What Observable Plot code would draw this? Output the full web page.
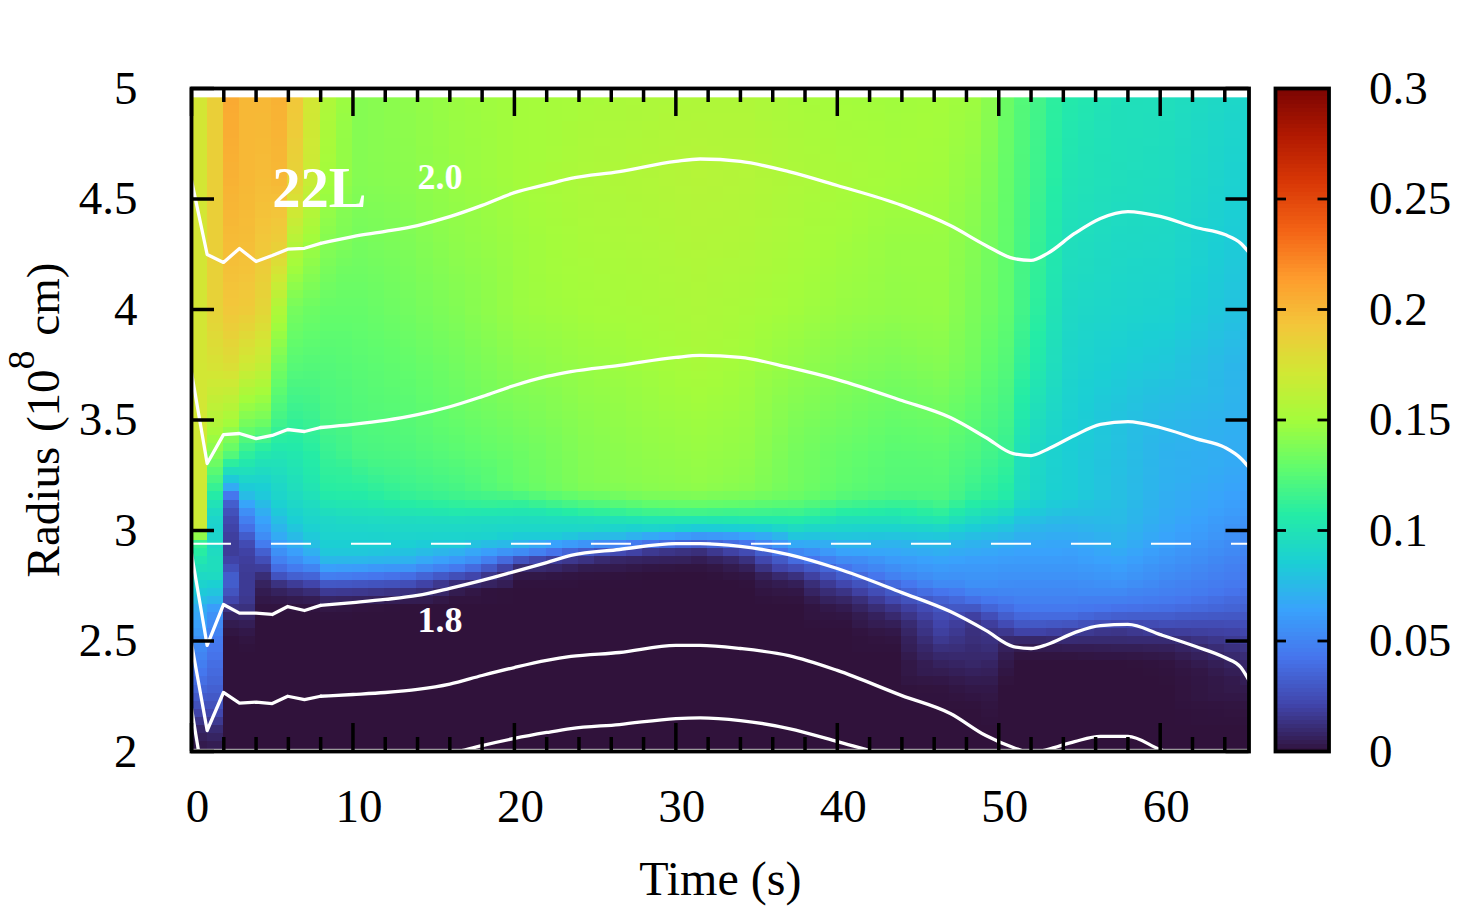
<!DOCTYPE html>
<html>
<head>
<meta charset="utf-8">
<style>
html,body{margin:0;padding:0;background:#fff;overflow:hidden}
#row{display:flex;width:1470px;height:910px}
svg{display:block;flex:none}
</style>
<script src="https://cdn.jsdelivr.net/npm/d3@7"></script>
<script src="https://cdn.jsdelivr.net/npm/@observablehq/plot@0.6"></script>
</head>
<body>
<div id="row"></div>
<script>
const xMajor = [0,10,20,30,40,50,60];
const xMinor = [2,4,6,8,12,14,16,18,22,24,26,28,32,34,36,38,42,44,46,48,52,54,56,58,62,64];
const yTicks = [2,2.5,3,3.5,4,4.5,5];
const barTicks = [0,0.05,0.1,0.15,0.2,0.25,0.3];
const turboStops = ["#30123b","#4145ab","#4675ed","#39a2fc","#1bcfd4","#24eca6","#61fc6c","#a4fc3b","#d1e834","#f3c63a","#fe9b2d","#f36315","#d93806","#b11901","#7a0402"];

// sampled field: one profile (in 10^-3) per time, read at the radii below
const radii = [4.96,4.6,4.3,4.0,3.75,3.5,3.35,3.2,3.15,3.1,3.05,3.0,2.95,2.9,2.85,2.8,2.75,2.7,2.65,2.6,2.55,2.5,2.45,2.4,2.3,2.2,2.1,2.01];
const fieldTimes = [0.4,1.43,2.43,3.43,4.43,5.43,6.43,7.43,8.43,10.43,13.43,16.43,20.43,24.43,28.43,31.43,34.43,37.43,40.43,43.43,46.43,47.43,48.43,49.43,50.43,51.43,52.43,53.43,54.43,57.43,60.43,65.5];
const profiles = [
[172,172,172,172,172,172,172,172,172,172,172,170,115,108,100,94,88,80,70,66,62,56,52,48,38,25,8,2],
[187,187,187,185,175,158,140,115,105,95,90,88,92,95,97,95,85,78,62,55,50,45,43,40,35,26,10,3],
[207,203,198,192,178,152,127,72,38,28,23,20,18,18,22,32,32,25,14,6,2,0,0,0,0,0,0,0],
[200,200,197,190,170,138,112,85,75,58,48,38,25,20,18,17,17,17,13,7,3,1,0,0,0,0,0,0],
[200,198,192,183,165,135,105,86,82,72,65,58,50,32,22,12,6,3,1,0,0,0,0,0,0,0,0,0],
[203,200,188,155,135,118,102,92,90,85,78,72,65,55,45,30,10,4,1,0,0,0,0,0,0,0,0,0],
[192,185,158,135,125,113,104,97,94,90,86,80,72,62,52,36,14,5,1,0,0,0,0,0,0,0,0,0],
[172,168,148,132,124,115,108,102,98,93,90,86,80,70,58,38,18,6,1,0,0,0,0,0,0,0,0,0],
[155,150,140,130,124,120,114,109,105,98,92,90,87,82,71,50,26,10,2,0,0,0,0,0,0,0,0,0],
[140,140,135,130,126,123,120,110,106,100,94,90,87,82,70,47,25,9,1,0,0,0,0,0,0,0,0,0],
[143,142,138,134,129,125,122,116,112,104,95,91,88,79,68,42,22,6,0,0,0,0,0,0,0,0,0,0],
[147,146,143,139,134,130,126,120,116,107,96,91,87,70,55,28,8,1,0,0,0,0,0,0,0,0,0,0],
[150,150,148,147,142,136,132,130,120,105,95,90,78,52,15,3,0,0,0,0,0,0,0,0,0,0,0,0],
[152,154,152,150,146,142,140,139,130,115,97,90,65,28,6,1,0,0,0,0,0,0,0,0,0,0,0,0],
[154,156,154,152,149,146,144,142,136,122,102,85,48,14,3,0,0,0,0,0,0,0,0,0,0,0,0,0],
[155,158,156,154,152,148,146,144,137,124,102,78,38,10,2,0,0,0,0,0,0,0,0,0,0,0,0,0],
[155,157,155,152,149,146,144,141,135,122,104,80,48,22,8,2,0,0,0,0,0,0,0,0,0,0,0,0],
[152,154,152,149,144,138,135,134,131,120,106,90,72,50,32,14,4,1,0,0,0,0,0,0,0,0,0,0],
[150,152,149,146,140,134,130,128,124,112,98,87,75,64,48,34,20,10,4,1,0,0,0,0,0,0,0,0],
[149,150,146,144,137,130,126,124,120,108,98,86,74,66,58,50,36,26,15,8,3,1,0,0,0,0,0,0],
[150,149,146,145,140,132,127,124,122,114,103,88,76,70,63,58,52,36,29,23,20,16,11,7,1,0,0,0],
[149,146,143,141,137,129,124,120,118,108,98,84,75,68,62,57,52,40,30,20,17,14,11,8,2,0,0,0],
[148,144,140,137,134,126,122,116,112,103,93,82,73,67,61,58,55,45,30,16,13,12,10,9,3,0,0,0],
[142,138,135,133,128,122,118,112,110,100,90,80,72,66,61,58,55,47,36,22,15,13,11,8,3,1,0,0],
[132,130,129,128,124,118,114,108,106,97,87,78,70,65,60,57,54,49,40,30,18,9,5,3,0,0,0,0],
[124,122,120,118,112,104,98,96,94,88,80,74,68,64,60,57,53,50,44,35,24,8,2,0,0,0,0,0],
[118,116,113,110,104,96,92,91,90,85,78,72,68,64,60,57,53,50,45,36,24,8,2,0,0,0,0,0],
[110,108,104,100,96,91,88,87,86,82,76,71,67,64,60,57,53,50,45,36,22,9,2,0,0,0,0,0],
[105,101,97,93,90,87,85,85,85,80,75,71,67,63,60,57,53,50,45,36,20,10,2,0,0,0,0,0],
[98,97,93,90,85,80,79,78,78,77,76,74,72,68,64,60,56,50,42,30,16,10,3,0,0,0,0,0],
[97,95,92,88,82,75,72,71,70,69,68,66,64,60,57,54,50,47,40,30,20,10,4,1,0,0,0,0],
[90,86,82,78,72,70,68,64,62,60,57,55,52,50,47,45,43,38,34,28,23,18,13,9,4,1,0,0]
];

// contour lines
const lineTimes = [0,0.97,1.98,2.97,4,5,5.96,7,8,10,12,14,16,18,20,22,23.5,26.5,30,31.5,34,37,40,44,47,49.2,50.9,52,53,54.7,56.3,58,60,62.2,64,65,65.5];
const contourA = [4.584,4.249,4.213,4.276,4.217,4.244,4.273,4.277,4.299,4.330,4.353,4.380,4.420,4.471,4.529,4.566,4.593,4.624,4.670,4.681,4.670,4.624,4.561,4.471,4.380,4.290,4.231,4.222,4.253,4.344,4.412,4.443,4.421,4.371,4.339,4.299,4.258];
const contourB = [3.715,3.303,3.434,3.439,3.416,3.430,3.457,3.448,3.466,3.480,3.498,3.524,3.560,3.606,3.656,3.697,3.719,3.747,3.783,3.792,3.783,3.738,3.683,3.588,3.511,3.421,3.348,3.339,3.367,3.430,3.480,3.493,3.466,3.416,3.376,3.326,3.285];
const contourC = [2.896,2.480,2.665,2.626,2.626,2.620,2.656,2.638,2.661,2.674,2.688,2.706,2.738,2.774,2.814,2.855,2.887,2.914,2.941,2.941,2.928,2.891,2.828,2.719,2.633,2.548,2.475,2.466,2.484,2.538,2.570,2.575,2.529,2.475,2.425,2.380,2.321];
const contourD = [2.489,2.095,2.267,2.219,2.223,2.217,2.250,2.235,2.250,2.258,2.267,2.281,2.305,2.344,2.380,2.412,2.430,2.448,2.480,2.480,2.466,2.434,2.367,2.253,2.172,2.072,2.018,1.995,2.009,2.045,2.068,2.068,2.009,1.959,1.914,1.869,1.824];
const contourE = [2.195,1.765,1.937,1.887,1.891,1.887,1.919,1.905,1.919,1.937,1.950,1.968,1.991,2.027,2.059,2.086,2.104,2.122,2.149,2.152,2.140,2.104,2.045,1.959,1.869,1.778,1.71,1.68,1.70,1.74,1.76,1.76,1.70,1.65,1.60,1.56,1.52];
const contours = [contourA,contourB,contourC,contourD,contourE];
const shockRadius = 2.94;
const jaggedEnd = 8; // the first samples are joined straight, the rest as a smooth curve

const samples = profiles.flatMap((p,j)=>p.map((v,i)=>({t:fieldTimes[j],r:radii[i],v:v/1000})));
const lineRows = contours.flatMap((c,k)=>c.map((r,i)=>({k,i,t:lineTimes[i],r})));

const font = "Liberation Serif";
const colorScale = {type:"linear",domain:[0,0.3],clamp:true,interpolate:d3.piecewise(d3.interpolateRgb,turboStops)};
const lineStyle = {x:"t",y:"r",z:"k",stroke:"#fff",strokeWidth:3.3,clip:true};

const main = Plot.plot({
  width:1262,height:910,marginLeft:191,marginRight:13.5,marginTop:88,marginBottom:159,
  style:{fontFamily:font,background:"#fff",color:"#000"},
  x:{domain:[0,65.5]},
  y:{domain:[2,5]},
  color:colorScale,
  marks:[
    Plot.raster(samples,{x:"t",y:"r",fill:"v",x1:-0.07,x2:65.93,y1:2.012,y2:4.96,width:66,height:81,
      interpolate:"barycentric",imageRendering:"pixelated",clip:true}),
    Plot.ruleY([shockRadius],{stroke:"#fff",strokeWidth:2,strokeDasharray:"40,40"}),
    Plot.line(lineRows.filter(d=>d.i<=jaggedEnd),{...lineStyle,curve:"linear"}),
    Plot.line(lineRows.filter(d=>d.i>=jaggedEnd),{...lineStyle,curve:"monotone-x"}),
    Plot.tickX(xMajor,{x:d=>d,stroke:"#000",strokeWidth:3.5,insetBottom:635}),
    Plot.tickX(xMajor,{x:d=>d,stroke:"#000",strokeWidth:3.5,insetTop:635}),
    Plot.tickX(xMinor,{x:d=>d,stroke:"#000",strokeWidth:3.5,insetBottom:649}),
    Plot.tickX(xMinor,{x:d=>d,stroke:"#000",strokeWidth:3.5,insetTop:649}),
    Plot.tickY(yTicks,{y:d=>d,stroke:"#000",strokeWidth:3.5,insetRight:1034.5}),
    Plot.tickY(yTicks,{y:d=>d,stroke:"#000",strokeWidth:3.5,insetLeft:1034.5}),
    Plot.frame({stroke:"#000",strokeWidth:3.8}),
    Plot.axisX(xMajor,{anchor:"bottom",tickSize:0,tickPadding:37,dx:6,fontSize:47,tickFormat:d=>String(d),
      label:"Time (s)",labelAnchor:"center",labelOffset:143,labelArrow:"none"}),
    Plot.axisY(yTicks,{anchor:"left",tickSize:0,tickPadding:54,fontSize:47,tickFormat:d=>String(d),
      label:"Radius (108 cm)",labelAnchor:"center",labelOffset:166,labelArrow:"none"}),
    Plot.text(["22L"],{x:()=>5,y:()=>4.466,text:d=>d,fill:"#fff",fontSize:56.5,fontWeight:"bold",textAnchor:"start",lineAnchor:"bottom"}),
    Plot.text(["2.0"],{x:()=>14,y:()=>4.545,text:d=>d,fill:"#fff",fontSize:36,fontWeight:"bold",textAnchor:"start",lineAnchor:"bottom"}),
    Plot.text(["1.8"],{x:()=>14,y:()=>2.54,text:d=>d,fill:"#fff",fontSize:36,fontWeight:"bold",textAnchor:"start",lineAnchor:"bottom"})
  ]
});

// superscript in the radius label, slightly larger time label
d3.select(main).selectAll("text").filter(function(){return this.textContent==="Radius (108 cm)";}).each(function(){
  const t=d3.select(this).text(null);
  t.append("tspan").text("Radius");
  t.append("tspan").attr("dx",3).text(" (10");
  t.append("tspan").attr("dy",-25).attr("font-size",38).text("8");
  t.append("tspan").attr("dy",25).attr("dx",3).text(" cm)");
});
d3.select(main).selectAll("text").filter(function(){return this.textContent==="Time (s)";}).attr("font-size",48);

const bar = Plot.plot({
  width:208,height:910,marginLeft:13,marginRight:141.5,marginTop:88,marginBottom:159,
  style:{fontFamily:font,background:"#fff",color:"#000"},
  x:{domain:[0,1],axis:null},
  y:{domain:[0,0.3]},
  color:colorScale,
  marks:[
    Plot.raster({x1:0,x2:1,y1:0,y2:0.3,width:1,height:166,fill:(x,y)=>y,imageRendering:"pixelated"}),
    Plot.tickY(barTicks,{y:d=>d,stroke:"#000",strokeWidth:2.8,insetRight:42.5}),
    Plot.tickY(barTicks,{y:d=>d,stroke:"#000",strokeWidth:2.8,insetLeft:42.5}),
    Plot.frame({stroke:"#000",strokeWidth:3.8}),
    Plot.axisY(barTicks,{anchor:"right",tickSize:0,tickPadding:40,fontSize:47,tickFormat:d=>String(d),label:null})
  ]
});

const row=document.getElementById("row");
row.appendChild(main);
row.appendChild(bar);
</script>
</body>
</html>
